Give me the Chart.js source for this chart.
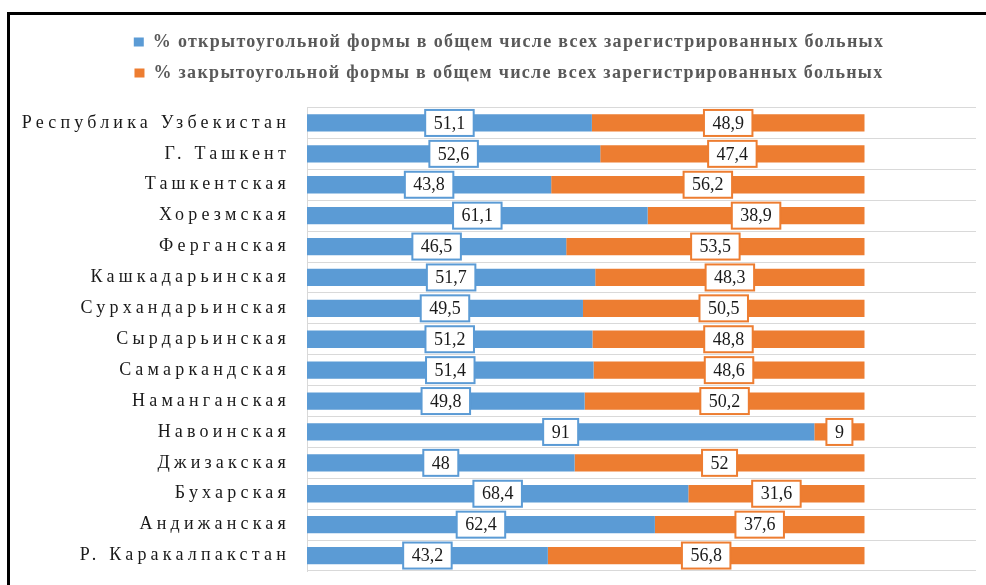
<!DOCTYPE html>
<html>
<head>
<meta charset="utf-8">
<script src="https://cdn.jsdelivr.net/npm/chart.js@4"></script>
<style>
    html, body { margin: 0; padding: 0; background: #fff; }
    #wrap { position: relative; width: 986px; height: 585px; overflow: hidden; }
    #frame {
        position: absolute; left: 7px; top: 12px; width: 990px; height: 600px;
        border-left: 3px solid #000; border-top: 3px solid #000;
        pointer-events: none;
    }
    canvas { position: absolute; left: 0; top: 0; }
</style>
</head>
<body>
<div id="wrap">
    <canvas id="chart" width="986" height="585"></canvas>
    <div id="frame"></div>
</div>
<script>
const regions = [
    'Республика Узбекистан', 'Г. Ташкент', 'Ташкентская', 'Хорезмская', 'Ферганская',
    'Кашкадарьинская', 'Сурхандарьинская', 'Сырдарьинская', 'Самаркандская', 'Наманганская',
    'Навоинская', 'Джизакская', 'Бухарская', 'Андижанская', 'Р. Каракалпакстан'
];
const openAngle = [51.1, 52.6, 43.8, 61.1, 46.5, 51.7, 49.5, 51.2, 51.4, 49.8, 91, 48, 68.4, 62.4, 43.2];
const closedAngle = [48.9, 47.4, 56.2, 38.9, 53.5, 48.3, 50.5, 48.8, 48.6, 50.2, 9, 52, 31.6, 37.6, 56.8];
const seriesNames = [
    '% открытоугольной формы в общем числе всех зарегистрированных больных',
    '% закрытоугольной формы в общем числе всех зарегистрированных больных'
];

const blue = '#5B9BD5';
const orange = '#ED7D31';

// extra room under the legend, and legend nudged right a bit
const legendTweak = {
    id: 'legendTweak',
    beforeInit(chart) {
        const legend = chart.legend;
        const fit = legend.fit;
        const draw = legend.draw;
        legend.fit = function () {
            fit.call(this);
            this.height += 15.5;
        };
        legend.draw = function () {
            this.left += 21;
            this.right += 21;
            draw.call(this);
            this.left -= 21;
            this.right -= 21;
        };
    }
};

// spaced-out text for legend and category names, boxed value labels
const spacing = {
    id: 'spacing',
    beforeLayout(chart) { chart.ctx.letterSpacing = '1.3px'; },
    afterLayout(chart) { chart.ctx.letterSpacing = '0px'; },
    beforeDraw(chart) { chart.ctx.letterSpacing = '1.3px'; },
    afterDatasetsDraw(chart) {
        const ctx = chart.ctx;
        ctx.letterSpacing = '0px';
        ctx.save();
        ctx.font = '18px "Liberation Serif", serif';
        ctx.textAlign = 'center';
        ctx.textBaseline = 'middle';
        chart.data.datasets.forEach((ds, i) => {
            chart.getDatasetMeta(i).data.forEach((bar, j) => {
                const text = String(ds.data[j]).replace('.', ',');
                const cx = (bar.x + bar.base) / 2;
                const w = ctx.measureText(text).width + 17;
                const h = 26;
                ctx.fillStyle = '#fff';
                ctx.fillRect(cx - w / 2, bar.y - h / 2, w, h);
                ctx.strokeStyle = ds.backgroundColor;
                ctx.lineWidth = 2;
                ctx.strokeRect(cx - w / 2, bar.y - h / 2, w, h);
                ctx.fillStyle = '#1a1a1a';
                ctx.fillText(text, cx, bar.y + 1);
            });
        });
        ctx.restore();
        ctx.letterSpacing = '4.2px';
    },
    afterDraw(chart) { chart.ctx.letterSpacing = '0px'; }
};

new Chart(document.getElementById('chart'), {
    type: 'bar',
    data: {
        labels: regions,
        datasets: [
            { label: seriesNames[0], data: openAngle, backgroundColor: blue },
            { label: seriesNames[1], data: closedAngle, backgroundColor: orange }
        ]
    },
    options: {
        indexAxis: 'y',
        responsive: false,
        animation: false,
        layout: { padding: { left: 0, right: 10, top: 20, bottom: 14 } },
        categoryPercentage: 0.56,
        barPercentage: 1,
        scales: {
            x: { stacked: true, min: 0, max: 120, display: false },
            y: {
                stacked: true,
                afterFit: (s) => {
                    s.width = 307;
                    s.paddingTop = 0;
                    s.paddingBottom = 0;
                },
                grid: { color: '#D9D9D9', offset: true, drawTicks: false },
                border: { color: '#D9D9D9' },
                ticks: {
                    z: 1,
                    padding: 17,
                    color: '#1a1a1a',
                    font: { family: '"Liberation Serif", serif', size: 18 }
                }
            }
        },
        plugins: {
            legend: {
                position: 'top',
                labels: {
                    boxWidth: 10,
                    boxHeight: 9,
                    padding: 13,
                    color: '#595959',
                    font: { family: '"Liberation Serif", serif', size: 18, weight: 'bold' }
                }
            },
            tooltip: { enabled: false }
        }
    },
    plugins: [legendTweak, spacing]
});
</script>
</body>
</html>
